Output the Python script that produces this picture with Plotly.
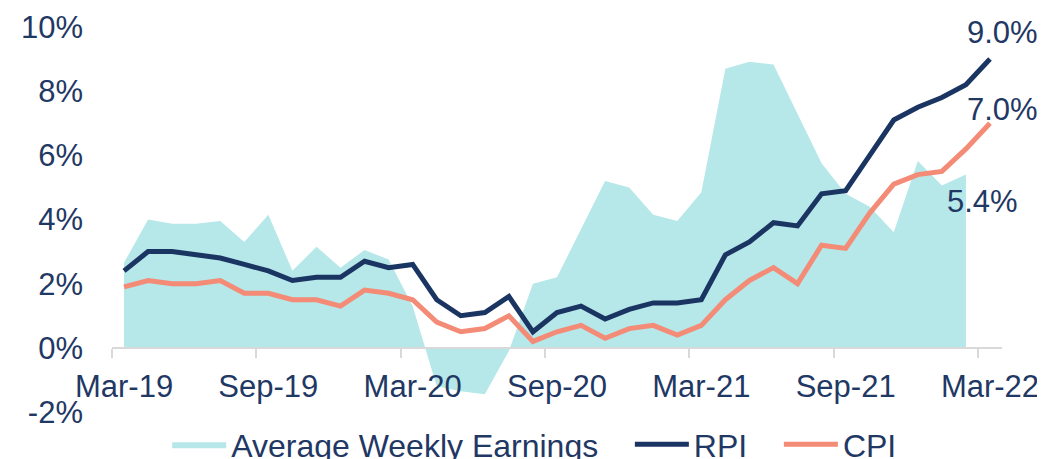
import plotly.graph_objects as go

months = [
    "Mar-19", "Apr-19", "May-19", "Jun-19", "Jul-19", "Aug-19", "Sep-19", "Oct-19", "Nov-19", "Dec-19",
    "Jan-20", "Feb-20", "Mar-20", "Apr-20", "May-20", "Jun-20", "Jul-20", "Aug-20", "Sep-20", "Oct-20",
    "Nov-20", "Dec-20", "Jan-21", "Feb-21", "Mar-21", "Apr-21", "May-21", "Jun-21", "Jul-21", "Aug-21",
    "Sep-21", "Oct-21", "Nov-21", "Dec-21", "Jan-22", "Feb-22", "Mar-22",
]

# AWE stops at Feb-22
awe = [2.65, 4.0, 3.87, 3.87, 3.95, 3.3, 4.15, 2.4, 3.15, 2.5, 3.05, 2.75, 1.3, -1.2, -1.35, -1.45,
       -0.1, 2.0, 2.2, 3.7, 5.2, 5.0, 4.15, 3.95, 4.85, 8.7, 8.92, 8.83, 7.3, 5.75, 4.8, 4.4, 3.6,
       5.82, 5.06, 5.4]
rpi = [2.4, 3.0, 3.0, 2.9, 2.8, 2.6, 2.4, 2.1, 2.2, 2.2, 2.7, 2.5, 2.6, 1.5, 1.0, 1.1, 1.6, 0.5,
       1.1, 1.3, 0.9, 1.2, 1.4, 1.4, 1.5, 2.9, 3.3, 3.9, 3.8, 4.8, 4.9, 6.0, 7.1, 7.5, 7.8, 8.2, 9.0]
cpi = [1.9, 2.1, 2.0, 2.0, 2.1, 1.7, 1.7, 1.5, 1.5, 1.3, 1.8, 1.7, 1.5, 0.8, 0.5, 0.6, 1.0, 0.2,
       0.5, 0.7, 0.3, 0.6, 0.7, 0.4, 0.7, 1.5, 2.1, 2.5, 2.0, 3.2, 3.1, 4.2, 5.1, 5.4, 5.5, 6.2, 7.0]

y_ticks = [-2, 0, 2, 4, 6, 8, 10]

NAVY = "#1B3563"
SALMON = "#F38B76"
TEAL = "#B6E7E9"
TEXT = "#1F3864"
FONT = "Arial, Liberation Sans, sans-serif"
GAP = "\u00a0" * 3

idx = list(range(len(months)))
label_idx = idx[::6]
tick_idx = [i - 0.5 for i in label_idx]

fig = go.Figure()

fig.add_trace(go.Scatter(
    x=idx[:len(awe)], y=awe, mode="lines", fill="tozeroy",
    fillcolor=TEAL, line=dict(width=0, color=TEAL),
    name="Average Weekly Earnings" + GAP,
))
fig.add_trace(go.Scatter(
    x=idx, y=rpi, mode="lines", line=dict(color=NAVY, width=5),
    name="RPI" + GAP,
))
# CPI sits on the labelled overlay axis (same range)
fig.add_trace(go.Scatter(
    x=idx, y=cpi, mode="lines", line=dict(color=SALMON, width=5),
    name="CPI", xaxis="x2",
))

# end-of-series labels
fig.add_annotation(x=36.5, y=9.83, text="9.0%", showarrow=False)
fig.add_annotation(x=36.5, y=7.43, text="7.0%", showarrow=False)
fig.add_annotation(x=35.7, y=4.56, text="5.4%", showarrow=False)

zero_pos = (0 - y_ticks[0]) / (y_ticks[-1] - y_ticks[0])

# page body adds an 8px offset, so the figure is 8px smaller than the window
fig.update_layout(
    width=1037, height=451,
    margin=dict(l=104, r=43, t=19, b=47),
    paper_bgcolor="white", plot_bgcolor="white",
    font=dict(family=FONT, size=31, color=TEXT),
    showlegend=True,
    legend=dict(
        orientation="h", x=0.062, y=0.032, xanchor="left", yanchor="middle",
        yref="container",
        font=dict(size=32, color=TEXT), itemwidth=54, tracegroupgap=0,
        bgcolor="rgba(0,0,0,0)",
    ),
    xaxis=dict(
        range=[-0.5, 36.5], anchor="free", position=zero_pos,
        tickvals=tick_idx, ticks="outside", ticklen=9, tickwidth=2,
        tickcolor="#D9D9D9", showline=True, linecolor="#D9D9D9", linewidth=2,
        showticklabels=False, showgrid=False, zeroline=False, automargin=False,
    ),
    xaxis2=dict(
        range=[-0.5, 36.5], overlaying="x", anchor="free", position=zero_pos,
        side="bottom",
        tickvals=label_idx, ticktext=[months[i] for i in label_idx],
        ticks="", showline=False, showgrid=False, zeroline=False,
        ticklabelstandoff=17, tickfont=dict(size=31, color=TEXT), automargin=False,
    ),
    yaxis=dict(
        range=[y_ticks[0], y_ticks[-1]], tickvals=y_ticks,
        ticktext=[f"{v}%" for v in y_ticks], ticks="", showline=False,
        showgrid=False, zeroline=False, ticklabelstandoff=28,
        tickfont=dict(size=31, color=TEXT), automargin=False,
    ),
)

fig.write_html("out.html")
